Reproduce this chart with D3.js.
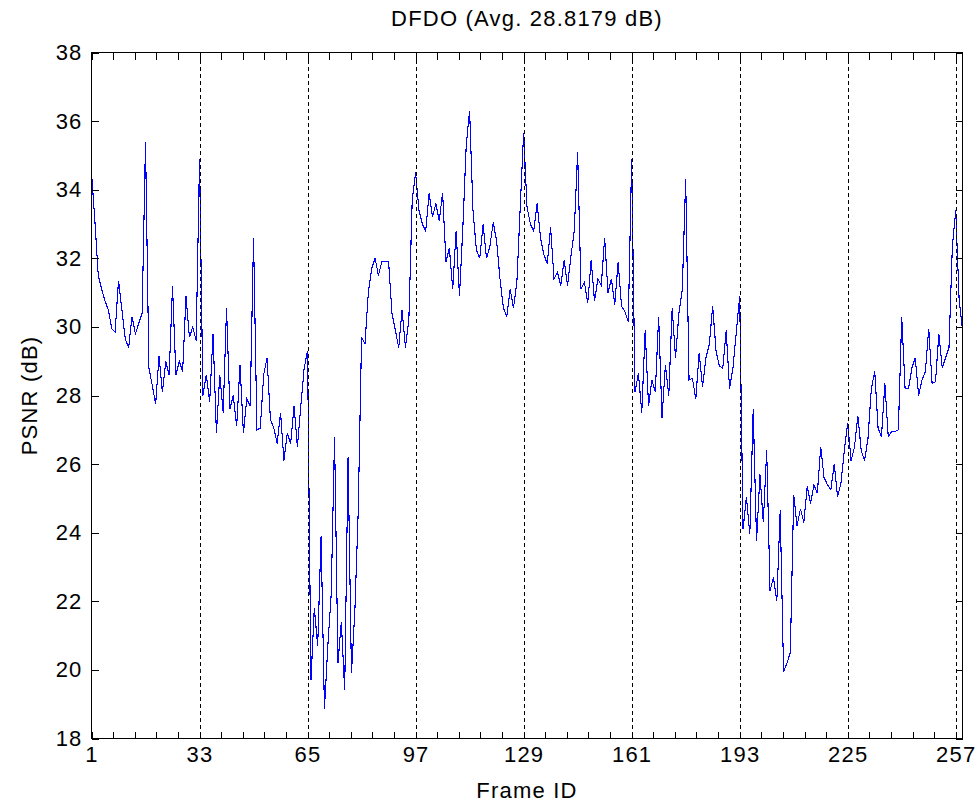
<!DOCTYPE html>
<html><head><meta charset="utf-8">
<script src="https://cdn.jsdelivr.net/npm/d3@7"></script>
<style>
body{margin:0;background:#fff}
svg{display:block}
text{font-family:"Liberation Sans",Arial,sans-serif;fill:#000}
</style>
</head><body>
<svg id="chart" width="979" height="809"></svg>
<script>
// PSNR per frame (frames 1..259)
const psnr = [
34.5,33.1,31.5,31.1,30.75,30.5,29.95,29.85,31.35,30.5,
29.65,29.4,30.3,29.8,30.1,30.4,35.4,28.8,28.3,27.75,
29.15,28.1,29.0,28.6,31.2,28.6,29.0,28.7,30.9,29.7,
30.0,29.6,34.9,28.0,28.6,27.8,29.8,26.9,28.6,27.5,
30.55,27.6,28.0,27.1,28.9,26.9,27.9,27.7,32.6,27.0,
27.05,28.6,29.1,27.3,27.05,26.6,27.5,26.1,26.9,26.6,
27.7,26.5,27.7,28.8,29.3,19.7,21.8,20.7,23.9,18.85,
20.7,22.2,26.8,20.2,21.4,19.4,26.2,19.9,21.7,24.6,
29.7,29.5,31.0,31.7,32.0,31.5,31.9,31.9,31.9,30.4,
29.9,29.4,30.5,29.4,30.2,33.7,34.5,33.4,33.0,32.8,
33.9,33.2,33.6,33.1,33.9,31.9,32.3,31.1,32.8,30.9,
32.9,35.3,36.3,33.4,32.25,32.0,33.0,32.0,32.35,33.05,
32.5,31.4,30.55,30.3,31.1,30.55,31.3,33.5,35.65,33.5,
33.0,32.8,33.6,32.6,32.1,31.85,32.9,31.4,31.6,31.2,
31.95,31.2,32.05,32.8,35.1,31.1,31.3,30.7,31.95,30.75,
31.4,31.2,32.6,31.0,31.4,30.65,31.9,30.6,30.45,30.15,
34.9,28.1,28.65,27.5,29.9,27.7,28.45,28.1,30.3,27.35,
28.9,28.0,30.55,29.1,30.4,31.1,34.3,28.45,28.5,27.9,
29.25,28.25,29.1,29.5,30.6,29.3,28.85,28.8,29.9,28.2,
28.8,29.85,30.9,24.1,25.05,23.95,27.6,23.75,25.7,24.3,
26.4,22.3,22.7,22.0,24.65,19.95,20.2,20.5,25.1,24.2,
24.7,24.3,25.35,24.85,25.4,25.15,26.5,25.6,25.4,25.25,
26.0,25.05,25.45,26.4,27.2,26.1,26.5,27.4,26.4,26.1,
26.75,28.2,28.7,27.05,26.8,28.35,26.8,26.95,26.95,27.0,
30.3,28.2,28.2,28.8,29.1,28.0,28.45,28.7,29.95,28.35,
28.4,29.8,28.8,29.1,29.4,32.35,33.4,30.8,29.9
];
const xTickValues = [1,33,65,97,129,161,193,225,257];
const yTickValues = [18,20,22,24,26,28,30,32,34,36,38];
const separators = [33,65,97,129,161,193,225,257];
const titleText = "DFDO (Avg. 28.8179 dB)";
const xLabelText = "Frame ID";
const yLabelText = "PSNR (dB)";

const L = 91.5, R = 962.5, T = 52.5, B = 738.5;
const svg = d3.select("#chart");
const x = d3.scaleLinear().domain([1, psnr.length]).range([L, R]);
const y = d3.scaleLinear().domain([18, 38]).range([B, T]);

// minor x ticks: 4 between majors
const xMinor = [];
for (let i = 0; i < xTickValues.length - 1; i++) {
  const a = xTickValues[i], b = xTickValues[i+1];
  for (let k = 1; k < 5; k++) xMinor.push(a + (b - a) * k / 5);
}

const fontSize = 22, ls = "1.2px";
function style(g) {
  g.select(".domain").remove();
  g.selectAll(".tick line").attr("stroke", "#000").attr("stroke-width", 1).attr("shape-rendering", "crispEdges");
  g.selectAll("text").attr("font-size", fontSize).attr("letter-spacing", ls)
    .attr("font-family", '"Liberation Sans", Arial, sans-serif').attr("fill", "#000");
}

// data line
const line = d3.line().x((d, i) => x(i + 1)).y(d => y(d));
svg.append("path").datum(psnr).attr("d", line)
  .attr("fill", "none").attr("stroke", "#0000ff").attr("stroke-width", 1.1)
  .attr("shape-rendering", "crispEdges");

// dashed separators
svg.append("g").selectAll("line").data(separators).join("line")
  .attr("x1", d => Math.round(x(d)) + 0.5).attr("x2", d => Math.round(x(d)) + 0.5)
  .attr("y1", T).attr("y2", B)
  .attr("stroke", "#000").attr("stroke-width", 1).attr("stroke-dasharray", "4,3")
  .attr("shape-rendering", "crispEdges");

// axes
svg.append("g").attr("transform", `translate(0,${B})`)
  .call(d3.axisBottom(x).tickValues(xTickValues).tickSizeInner(-7).tickSizeOuter(0).tickPadding(8))
  .call(style);
svg.append("g").attr("transform", `translate(0,${B})`)
  .call(d3.axisBottom(x).tickValues(xMinor).tickSizeInner(-7).tickSizeOuter(0).tickFormat(""))
  .call(style);
svg.append("g").attr("transform", `translate(0,${T})`)
  .call(d3.axisTop(x).tickValues(xTickValues.concat(xMinor)).tickSizeInner(-7).tickSizeOuter(0).tickFormat(""))
  .call(style);
svg.append("g").attr("transform", `translate(${L},0)`)
  .call(d3.axisLeft(y).tickValues(yTickValues).tickSizeInner(-7).tickSizeOuter(0).tickPadding(9))
  .call(style);
svg.append("g").attr("transform", `translate(${R},0)`)
  .call(d3.axisRight(y).tickValues(yTickValues).tickSizeInner(-7).tickSizeOuter(0).tickFormat(""))
  .call(style);

// frame
svg.append("rect").attr("x", L).attr("y", T).attr("width", R - L).attr("height", B - T)
  .attr("fill", "none").attr("stroke", "#000").attr("stroke-width", 1).attr("shape-rendering", "crispEdges");

// titles
svg.append("text").attr("x", (L + R) / 2).attr("y", 26).attr("text-anchor", "middle")
  .attr("font-size", fontSize).attr("letter-spacing", ls).text(titleText);
svg.append("text").attr("x", (L + R) / 2).attr("y", 798).attr("text-anchor", "middle")
  .attr("font-size", fontSize).attr("letter-spacing", ls).text(xLabelText);
svg.append("text").attr("transform", `translate(37,${(T + B) / 2}) rotate(-90)`).attr("text-anchor", "middle")
  .attr("font-size", fontSize).attr("letter-spacing", ls).text(yLabelText);
</script>
</body></html>
